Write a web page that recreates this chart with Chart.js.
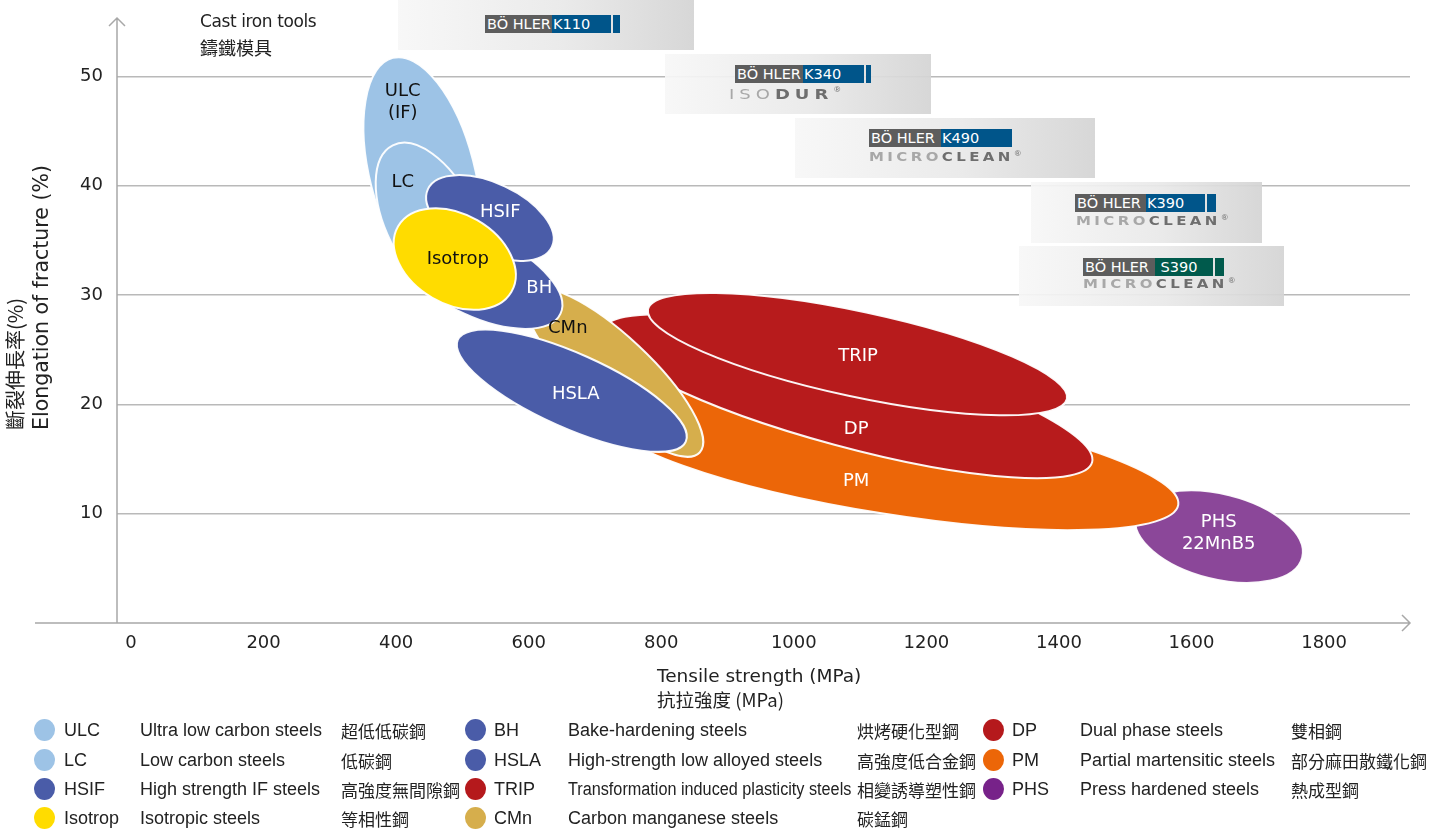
<!DOCTYPE html>
<html>
<head>
<meta charset="utf-8">
<script src="https://cdn.jsdelivr.net/npm/chart.js@4.4.1/dist/chart.umd.min.js"></script>
<style>
html, body { margin: 0; padding: 0; background: #fff; }
#wrap { position: relative; width: 1441px; height: 832px; overflow: hidden; font-family: "DejaVu Sans", Verdana, sans-serif; }
#chart { position: absolute; left: 0; top: 0; }
.box { position: absolute; background: linear-gradient(to right, rgba(247,247,247,.93), rgba(233,233,233,.93) 55%, rgba(212,212,212,.93)); }
.badge { position: absolute; height: 18px; display: flex; font: 14.5px/19px "DejaVu Sans", sans-serif; color: #fff; white-space: nowrap; }
.badge .b { background: #5d5d5d; width: 67px; padding-left: 2px; box-sizing: border-box; }
.badge .k { background: #00558a; padding-left: 1px; box-sizing: border-box; }
.badge .t { background: #00558a; width: 7px; margin-left: 2px; }
.badge.green .k, .badge.green .t { background: #005a4c; }
.logo { position: absolute; font: bold 15px/15px "DejaVu Sans", sans-serif; letter-spacing: 3.4px; white-space: nowrap; transform: scaleY(.8); transform-origin: left top; }
.logo .l { color: #a8a8a8; }
.logo .d { color: #6e6e6e; }
.logo sup { font-size: 8px; line-height: 8px; vertical-align: top; letter-spacing: 0; font-weight: normal; }
.note { position: absolute; color: #222; white-space: nowrap; }
.lg { position: absolute; font-family: "Liberation Sans", Arial, sans-serif; font-size: 18px; color: #222; white-space: nowrap; transform-origin: left center; }
.lg.zh { font-family: "Noto Sans CJK TC", sans-serif; font-size: 17px; }
.dot { position: absolute; width: 21px; height: 22px; border-radius: 50%; }
</style>
</head>
<body>
<div id="wrap">
  <canvas id="chart" width="1441" height="832"></canvas>

  <div class="note" style="left:200px;top:11px;font-size:17px;letter-spacing:-0.4px;">Cast iron tools</div>
  <div class="note" style="left:200px;top:34px;font-size:18px;font-family:'Noto Sans CJK TC',sans-serif;">鑄鐵模具</div>

  <div class="box" style="left:398px;top:0;width:296px;height:50px">
    <div class="badge" style="left:87px;top:15px"><span class="b">BÖ HLER</span><span class="k" style="width:59px">K110</span><span class="t"></span></div>
  </div>
  <div class="box" style="left:665px;top:54px;width:266px;height:60px">
    <div class="badge" style="left:70px;top:11px"><span class="b" style="width:68px">BÖ HLER</span><span class="k" style="width:61px">K340</span><span class="t" style="width:5px"></span></div>
    <div class="logo" style="left:64px;top:33px;letter-spacing:5px;font-size:18px;line-height:18px"><span class="l" style="font-weight:normal">ISO</span><span class="d">DUR</span><sup class="d">®</sup></div>
  </div>
  <div class="box" style="left:795px;top:118px;width:300px;height:60px">
    <div class="badge" style="left:74px;top:11px"><span class="b" style="width:72px">BÖ HLER</span><span class="k" style="width:71px">K490</span></div>
    <div class="logo" style="left:74px;top:33px"><span class="l">MICRO</span><span class="d">CLEAN</span><sup class="d">®</sup></div>
  </div>
  <div class="box" style="left:1031px;top:182px;width:231px;height:61px">
    <div class="badge" style="left:44px;top:12px"><span class="b" style="width:71px">BÖ HLER</span><span class="k" style="width:59px">K390</span><span class="t" style="width:9px"></span></div>
    <div class="logo" style="left:45px;top:33px"><span class="l">MICRO</span><span class="d">CLEAN</span><sup class="d">®</sup></div>
  </div>
  <div class="box" style="left:1019px;top:246px;width:265px;height:60px">
    <div class="badge green" style="left:64px;top:12px"><span class="b" style="width:72px">BÖ HLER</span><span class="k" style="width:58px">&nbsp;S390</span><span class="t" style="width:9px"></span></div>
    <div class="logo" style="left:64px;top:32px"><span class="l">MICRO</span><span class="d">CLEAN</span><sup class="d">®</sup></div>
  </div>

  <div id="legend"></div>
</div>

<script>
// ── Grados de acero (orden de la leyenda) ─────────────────────
const grades = ['ULC', 'LC', 'HSIF', 'Isotrop', 'BH', 'HSLA', 'TRIP', 'CMn', 'DP', 'PM', 'PHS'];
const gradeNamesEn = [
    'Ultra low carbon steels', 'Low carbon steels', 'High strength IF steels', 'Isotropic steels',
    'Bake-hardening steels', 'High-strength low alloyed steels', 'Transformation induced plasticity steels', 'Carbon manganese steels',
    'Dual phase steels', 'Partial martensitic steels', 'Press hardened steels'
];
const gradeNamesZh = [
    '超低低碳鋼', '低碳鋼', '高強度無間隙鋼', '等相性鋼',
    '烘烤硬化型鋼', '高強度低合金鋼', '相變誘導塑性鋼', '碳錳鋼',
    '雙相鋼', '部分麻田散鐵化鋼', '熱成型鋼'
];
const zoneLabels = ['ULC\n(IF)', 'LC', 'HSIF', 'Isotrop', 'BH', 'HSLA', 'TRIP', 'CMn', 'DP', 'PM', 'PHS\n22MnB5'];

// ── Zonas: extremos del eje mayor (MPa, %) y anchura (%) ──────
const strengthLow  = [395, 395, 448, 403, 409, 493,  780, 599,  712,  715, 1516];
const elongAtLow   = [51.7, 43.7, 39.7, 36.3, 35.0, 25.9, 28.7, 30.3, 26.8, 19.1, 9.8];
const strengthHigh = [484, 511, 635, 574, 648, 837, 1412, 858, 1450, 1580, 1767];
const elongAtHigh  = [30.5, 29.6, 34.4, 30.3, 28.3, 16.6, 20.5, 15.6, 14.7, 10.8, 6.0];
const elongSpread  = [4.8, 4.1, 3.2, 4.1, 3.7, 3.4, 3.9, 3.3, 4.6, 5.0, 3.9];

// ── Posición de las etiquetas dentro de cada zona (MPa, %) ────
const labelStrength = [410, 410, 557, 493, 616, 671, 1097, 659, 1094, 1094, 1641];
const labelElong    = [47.6, 40.3, 37.6, 33.3, 30.6, 20.9, 24.4, 27.0, 17.7, 13.0, 8.2];

// ── Ejes ──────────────────────────────────────────────────────
const xTicks = [0, 200, 400, 600, 800, 1000, 1200, 1400, 1600, 1800];
const yTicks = [10, 20, 30, 40, 50];

// ── Orden de dibujo (de abajo arriba) ─────────────────────────
const drawOrder = ['ULC', 'LC', 'PHS', 'PM', 'DP', 'TRIP', 'CMn', 'HSLA', 'BH', 'HSIF', 'Isotrop'];

// ── Colores ───────────────────────────────────────────────────
const FILL = {
    ULC: '#9dc3e6', LC: '#9dc3e6', HSIF: '#4a5ca8', Isotrop: '#ffdc00',
    BH: '#4a5ca8', HSLA: '#4a5ca8', TRIP: '#b71b1c', CMn: '#d6ae4c',
    DP: '#b71b1c', PM: '#ec6608', PHS: '#8b4799'
};
const DOT = Object.assign({}, FILL, { TRIP: '#b5191c', DP: '#b5191c', PHS: '#772289' });
const DARK_LABEL = ['ULC', 'LC', 'Isotrop', 'CMn'];
const FONT = '"DejaVu Sans", Verdana, sans-serif';
const AXIS = '#a8a8a8';

// ── Ejes con flecha y títulos ─────────────────────────────────
const axisPlugin = {
    id: 'axisArrows',
    afterDraw(chart) {
        const { ctx, chartArea: a } = chart;
        ctx.save();
        ctx.strokeStyle = AXIS;
        ctx.lineWidth = 1.5;
        ctx.beginPath();
        ctx.moveTo(a.left, a.bottom);  ctx.lineTo(a.left, a.top);
        ctx.moveTo(a.left - 8, a.top + 8);  ctx.lineTo(a.left, a.top);  ctx.lineTo(a.left + 8, a.top + 8);
        ctx.moveTo(35, a.bottom);  ctx.lineTo(a.right, a.bottom);
        ctx.moveTo(a.right - 8, a.bottom - 8);  ctx.lineTo(a.right, a.bottom);  ctx.lineTo(a.right - 8, a.bottom + 8);
        ctx.stroke();

        ctx.fillStyle = '#222';
        ctx.textBaseline = 'middle';
        ctx.textAlign = 'left';
        ctx.font = '18.5px ' + FONT;
        ctx.fillText('Tensile strength (MPa)', 657, 677);
        ctx.font = '18.5px "Noto Sans CJK TC", sans-serif';
        ctx.fillText('抗拉強度 (MPa)', 657, 700);

        ctx.translate(0, 430);
        ctx.rotate(-Math.PI / 2);
        ctx.font = '20px "Noto Sans CJK TC", sans-serif';
        ctx.fillText('斷裂伸長率(%)', 0, 15);
        ctx.font = '20.5px ' + FONT;
        ctx.fillText('Elongation of fracture (%)', 0, 43);
        ctx.restore();
    }
};

// ── Zonas elípticas por grado ─────────────────────────────────
const zonePlugin = {
    id: 'steelZones',
    afterDatasetsDraw(chart) {
        const { ctx, scales: { x, y } } = chart;
        ctx.save();
        drawOrder.forEach(name => {
            const i  = grades.indexOf(name);
            const x1 = x.getPixelForValue(strengthLow[i]),  y1 = y.getPixelForValue(elongAtLow[i]);
            const x2 = x.getPixelForValue(strengthHigh[i]), y2 = y.getPixelForValue(elongAtHigh[i]);
            const rx = Math.hypot(x2 - x1, y2 - y1) / 2;
            const ry = Math.abs(y.getPixelForValue(0) - y.getPixelForValue(elongSpread[i]));
            ctx.beginPath();
            ctx.ellipse((x1 + x2) / 2, (y1 + y2) / 2, rx, ry, Math.atan2(y2 - y1, x2 - x1), 0, Math.PI * 2);
            ctx.fillStyle = FILL[name];
            ctx.fill();
            ctx.lineWidth = 2;
            ctx.strokeStyle = 'rgba(255,255,255,0.95)';
            ctx.stroke();
        });

        // etiquetas
        ctx.font = '18px ' + FONT;
        ctx.textAlign = 'center';
        ctx.textBaseline = 'middle';
        const pts = chart.getDatasetMeta(0).data;
        grades.forEach((name, i) => {
            const lines = zoneLabels[i].split('\n');
            const px = pts[i].x, py = pts[i].y;
            ctx.fillStyle = DARK_LABEL.includes(name) ? '#111' : '#fff';
            lines.forEach((t, k) => ctx.fillText(t, px, py + (k - (lines.length - 1) / 2) * 22));
        });
        ctx.restore();
    }
};

new Chart(document.getElementById('chart'), {
    type: 'scatter',
    data: {
        datasets: [{
            data: grades.map((g, i) => ({ x: labelStrength[i], y: labelElong[i] })),
            pointRadius: 0,
            pointHoverRadius: 0
        }]
    },
    options: {
        responsive: false,
        animation: false,
        devicePixelRatio: 1,
        events: [],
        layout: { padding: { left: 0, top: 18, right: 31, bottom: 169 } },
        plugins: { legend: { display: false }, tooltip: { enabled: false } },
        scales: {
            x: {
                type: 'linear',
                min: -21.1,
                max: 1929.6,
                grid: { display: false, drawTicks: false },
                border: { display: false },
                ticks: {
                    color: '#222', font: { family: FONT, size: 18 }, padding: 10, maxRotation: 0, autoSkip: false,
                    callback: v => String(v)
                },
                afterBuildTicks: axis => { axis.ticks = xTicks.map(v => ({ value: v })); },
                afterFit: axis => { axis.height = 40; axis.paddingLeft = 0; axis.paddingRight = 0; }
            },
            y: {
                type: 'linear',
                min: 0,
                max: 55.35,
                grid: { color: '#b9b9b9', lineWidth: 1.5, drawTicks: false },
                border: { display: false },
                ticks: { color: '#222', font: { family: FONT, size: 18 }, padding: 14, callback: v => String(v) },
                afterBuildTicks: axis => { axis.ticks = yTicks.map(v => ({ value: v })); },
                afterFit: axis => { axis.width = 117; axis.paddingTop = 0; axis.paddingBottom = 0; }
            }
        }
    },
    plugins: [axisPlugin, zonePlugin]
});

// ── Leyenda (3 columnas x 4 filas) ────────────────────────────
const legendCols = [
    { dot: 44,  code: 64,   en: 140,  zh: 341,  end: 460 },
    { dot: 475, code: 494,  en: 568,  zh: 857,  end: 980 },
    { dot: 993, code: 1012, en: 1080, zh: 1291, end: 1436 }
];
const legendRows = [730, 760, 789, 818];
const legendEl = document.getElementById('legend');

function addText(cls, txt, left, cy, maxW) {
    const d = document.createElement('div');
    d.className = cls;
    d.textContent = txt;
    d.style.left = left + 'px';
    legendEl.appendChild(d);
    d.style.top = (cy - d.offsetHeight / 2) + 'px';
    if (maxW && d.offsetWidth > maxW) d.style.transform = 'scaleX(' + (maxW / d.offsetWidth).toFixed(3) + ')';
}

grades.forEach((g, i) => {
    const c = legendCols[Math.floor(i / 4)];
    const cy = legendRows[i % 4];
    const dot = document.createElement('div');
    dot.className = 'dot';
    dot.style.left = (c.dot - 10.5) + 'px';
    dot.style.top = (cy - 11) + 'px';
    dot.style.background = DOT[g];
    legendEl.appendChild(dot);
    addText('lg', g, c.code, cy);
    addText('lg', gradeNamesEn[i], c.en, cy, c.zh - c.en - 6);
    addText('lg zh', gradeNamesZh[i], c.zh, cy, c.end - c.zh);
});
</script>
</body>
</html>
